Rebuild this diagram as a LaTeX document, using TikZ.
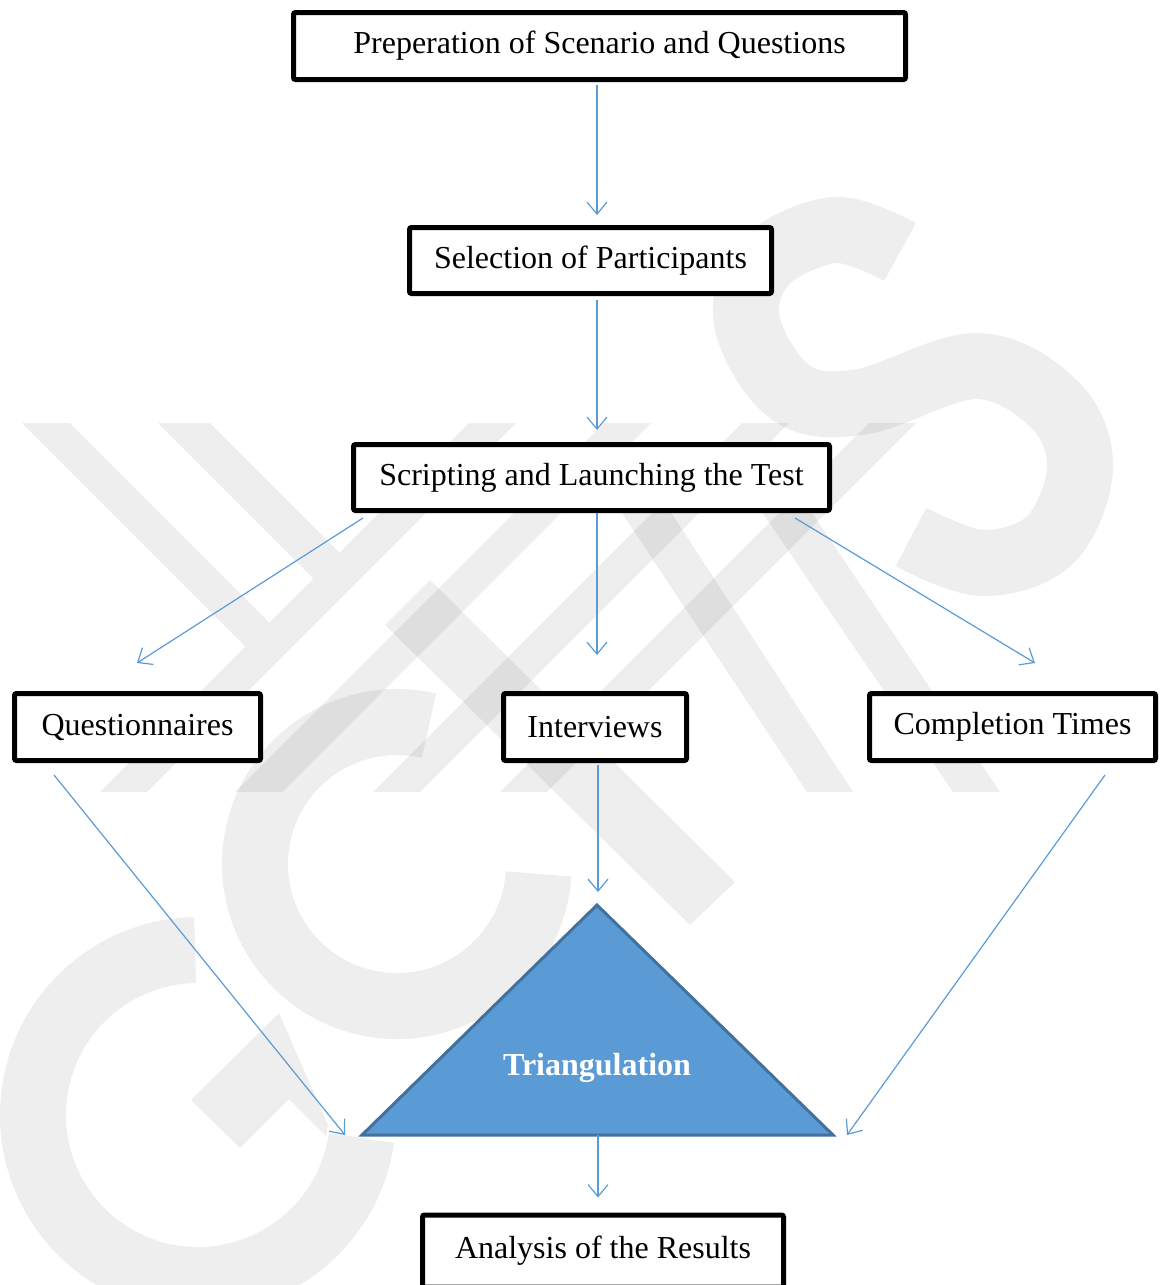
\documentclass[tikz,border=0pt]{standalone}
\usepackage{fontspec}
\setmainfont{Liberation Serif}
\usetikzlibrary{arrows.meta,calc}
\definecolor{arrowblue}{HTML}{5B9BD5}
\definecolor{trifill}{HTML}{5B9BD5}
\definecolor{tridraw}{HTML}{41719C}
\tikzset{
  stepbox/.style={draw=black,line width=5pt,rounded corners=2pt,fill=white,
    inner sep=0pt,font=\fontsize{32}{38}\selectfont,text=black},
  conn/.style={draw=arrowblue,line width=1.2pt,-{Straight Barb[length=12pt,width=20pt,line width=1.2pt]}},
  wmfill/.style={fill=black,opacity=0.068},
  wmstroke/.style={draw=black,draw opacity=0.068,line width=66pt,line cap=butt}
}
\begin{document}
\begin{tikzpicture}[x=1pt,y=-1pt]
\useasboundingbox (0,0) rectangle (1160,1285);
% ---------- watermark ----------
% stripes
\foreach \b in {100,235,373,500}{
  \fill[wmfill] (\b,792) -- (\b+47,792) -- (\b+416,423) -- (\b+369,423) -- cycle;
}
\fill[wmfill] (22,423) -- (70,423) -- (269.5,622.5) -- (245.5,646.5) -- cycle;
\fill[wmfill] (158,423) -- (210,423) -- (339.5,552.5) -- (313.5,578.5) -- cycle;
\fill[wmfill] (385,625) -- (430,580) -- (735,882) -- (690,925) -- cycle;
\fill[wmfill] (600,480) -- (650,480) -- (853,792) -- (807,792) -- cycle;
\fill[wmfill] (740,480) -- (790,480) -- (1000,792) -- (953,792) -- cycle;
% G
\draw[wmstroke] (198,1115) ++(8:165) arc[start angle=8,end angle=269,radius=165];
\fill[wmfill] (279,1013) -- (191,1100) -- (240,1148) -- (289,1099) -- (326,1136) -- (328,1125) -- cycle;
% C
\draw[wmstroke] (397,864) ++(4:142) arc[start angle=4,end angle=283,radius=142];
% S
\draw[wmstroke] plot[smooth,tension=0.6] coordinates {(900,252) (835,230) (765,262) (747,322) (790,392) (860,402) (977,366) (1055,405) (1080,468) (1050,540) (982,563) (911,537)};
% ---------- boxes ----------
\node[stepbox,minimum width=612pt,minimum height=67pt] (b1) at (599.5,46) {Preperation of Scenario and Questions};
\node[stepbox,minimum width=362pt,minimum height=66pt] (b2) at (590.5,260.5) {Selection of Participants};
\node[stepbox,minimum width=476pt,minimum height=66pt] (b3) at (591.5,477.5) {Scripting and Launching the Test};
\node[stepbox,minimum width=246pt,minimum height=67pt] (b4) at (137.5,727) {Questionnaires};
\node[stepbox,minimum width=183pt,minimum height=67pt] (b5) at (595,727) {Interviews};
\node[stepbox,minimum width=286pt,minimum height=67pt] (b6) at (1012.5,727) {Completion Times};
\node[stepbox,minimum width=361pt,minimum height=72pt] (b7) at (603,1251) {Analysis of the Results};
% triangle
\coordinate (tritop) at (597,905);
\coordinate (trileft) at (362,1135);
\coordinate (triright) at (833,1135);
\coordinate (tribot) at (598,1135);
\draw[fill=trifill,draw=tridraw,line width=3pt,line join=miter] (tritop) -- (trileft) -- (triright) -- cycle;
\node[font=\bfseries\fontsize{32}{38}\selectfont,text=white] (tri) at (597,1068) {Triangulation};
% ---------- connectors ----------
\draw[conn] ([shift={(-2.5,3)}]b1.south) -- ([shift={(6.5,-10)}]b2.north);
\draw[conn] ([shift={(6.5,4)}]b2.south) -- ([shift={(5.5,-12)}]b3.north);
\draw[conn] ([shift={(12,5)}]b3.south west) -- ([shift={(-0.5,-28)}]b4.north);
\draw[conn] ([shift={(5.5,0)}]b3.south) -- ([shift={(2,-36)}]b5.north);
\draw[conn] ([shift={(-37,5)}]b3.south east) -- ([shift={(22.5,-28)}]b6.north);
\draw[conn] ([shift={(42,12)}]b4.south west) -- ([xshift=-17pt]trileft);
\draw[conn] ([shift={(3,2)}]b5.south) -- ([shift={(1,-13)}]tritop);
\draw[conn] ([shift={(-53,12)}]b6.south east) -- ([xshift=14pt]triright);
\draw[conn] (tribot) -- ([shift={(-5,-15)}]b7.north);
\end{tikzpicture}
\end{document}
